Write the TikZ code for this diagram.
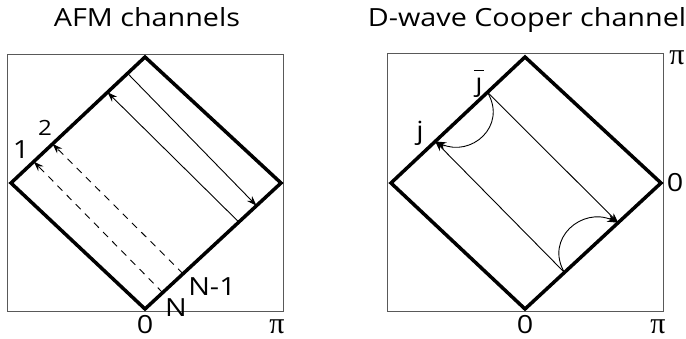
\documentclass[tikz,border=0pt]{standalone}
\usepackage{fontspec}
\setmainfont{Open Sans}[FakeStretch=1.15]
\newfontfamily\pifont{Liberation Serif}
\usetikzlibrary{arrows.meta,calc}
\begin{document}
\begin{tikzpicture}[x=1pt,y=-1pt,
  frame/.style={draw=black!65,line width=0.9pt},
  diam/.style={draw=black,line width=3.5pt,line join=miter},
  chan/.style={line width=0.9pt,-{Stealth[length=10pt,width=7pt]}},
  dchan/.style={chan,dash pattern=on 7pt off 6pt},
  curv/.style={line width=0.9pt,-{Stealth[length=11pt,width=7.5pt]}},
  lbl/.style={font=\fontsize{25}{30}\selectfont,inner sep=0pt},
  slbl/.style={font=\fontsize{21}{25}\selectfont,inner sep=0pt},
  pilbl/.style={font=\pifont\fontsize{30}{34}\selectfont,inner sep=0pt}]
\useasboundingbox (0,0) rectangle (686,338);
% ---------- left panel ----------
\coordinate (LF1) at (7,54);
\coordinate (LF2) at (283,311);
\draw[frame] (LF1) rectangle (LF2);
\coordinate (LT) at (145,57);
\coordinate (LL) at (11,183);
\coordinate (LR) at (281,183);
\coordinate (LB) at (145,309);
\draw[diam] (LT) -- (LR) -- (LB) -- (LL) -- cycle;
% points on the edges
\coordinate (u1) at ($(LL)!0.17!(LT)$);
\coordinate (u2) at ($(LL)!0.31!(LT)$);
\coordinate (u3) at ($(LL)!0.72!(LT)$);
\coordinate (u4) at ($(LL)!0.87!(LT)$);
\coordinate (d1) at ($(LB)!0.13!(LR)$);
\coordinate (d2) at ($(LB)!0.28!(LR)$);
\coordinate (d3) at ($(LB)!0.69!(LR)$);
\coordinate (d4) at ($(LB)!0.82!(LR)$);
\draw[chan] (u4) -- (d4);
\draw[chan] (d3) -- (u3);
\draw[dchan] (d2) -- (u2);
\draw[dchan] (d1) -- (u1);
\node[lbl,anchor=base] (t1) at (147,26.5) {AFM channels};
\node[lbl] (n1) at (21,150) {1};
\node[slbl] (n2) at (45,128) {2};
\node[lbl] (nN1) at (212,287) {N-1};
\node[lbl] (nN) at (176,308) {N};
\node[lbl,anchor=base] (z1) at (145,333) {0};
\node[pilbl,anchor=base] (p1) at (277,333) {π};
% ---------- right panel ----------
\coordinate (RF1) at (387,53);
\coordinate (RF2) at (663,311);
\draw[frame] (RF1) rectangle (RF2);
\coordinate (RT) at (525,57);
\coordinate (RL) at (391,183);
\coordinate (RR) at (661,183);
\coordinate (RB) at (525,309);
\draw[diam] (RT) -- (RR) -- (RB) -- (RL) -- cycle;
\coordinate (jb) at ($(RL)!0.72!(RT)$);
\coordinate (j) at ($(RL)!0.33!(RT)$);
\coordinate (k) at ($(RB)!0.29!(RR)$);
\coordinate (kb) at ($(RB)!0.685!(RR)$);
\draw[chan] (jb) -- (kb);
\draw[chan] (k) -- (j);
\draw[curv] (jb) .. controls ($(jb)+(20,34)$) and ($(j)+(36,16)$) .. (j);
\draw[curv] (k) .. controls ($(k)+(-20,-34)$) and ($(kb)+(-36,-16)$) .. (kb);
\node[lbl,anchor=base] (t2) at (527,26) {D-wave Cooper channel};
\node[lbl] (lj) at (420,133) {j};
\node[lbl] (ljb) at (479,85) {\ooalign{\j\cr\hidewidth\rule[0.82em]{0.42em}{1.6pt}\hidewidth\cr}};
\node[lbl,anchor=base] (z2) at (525,333) {0};
\node[pilbl,anchor=base] (p2) at (658,333) {π};
\node[pilbl] (p3) at (677,58) {π};
\node[lbl] (z3) at (675,183) {0};
\end{tikzpicture}
\end{document}
